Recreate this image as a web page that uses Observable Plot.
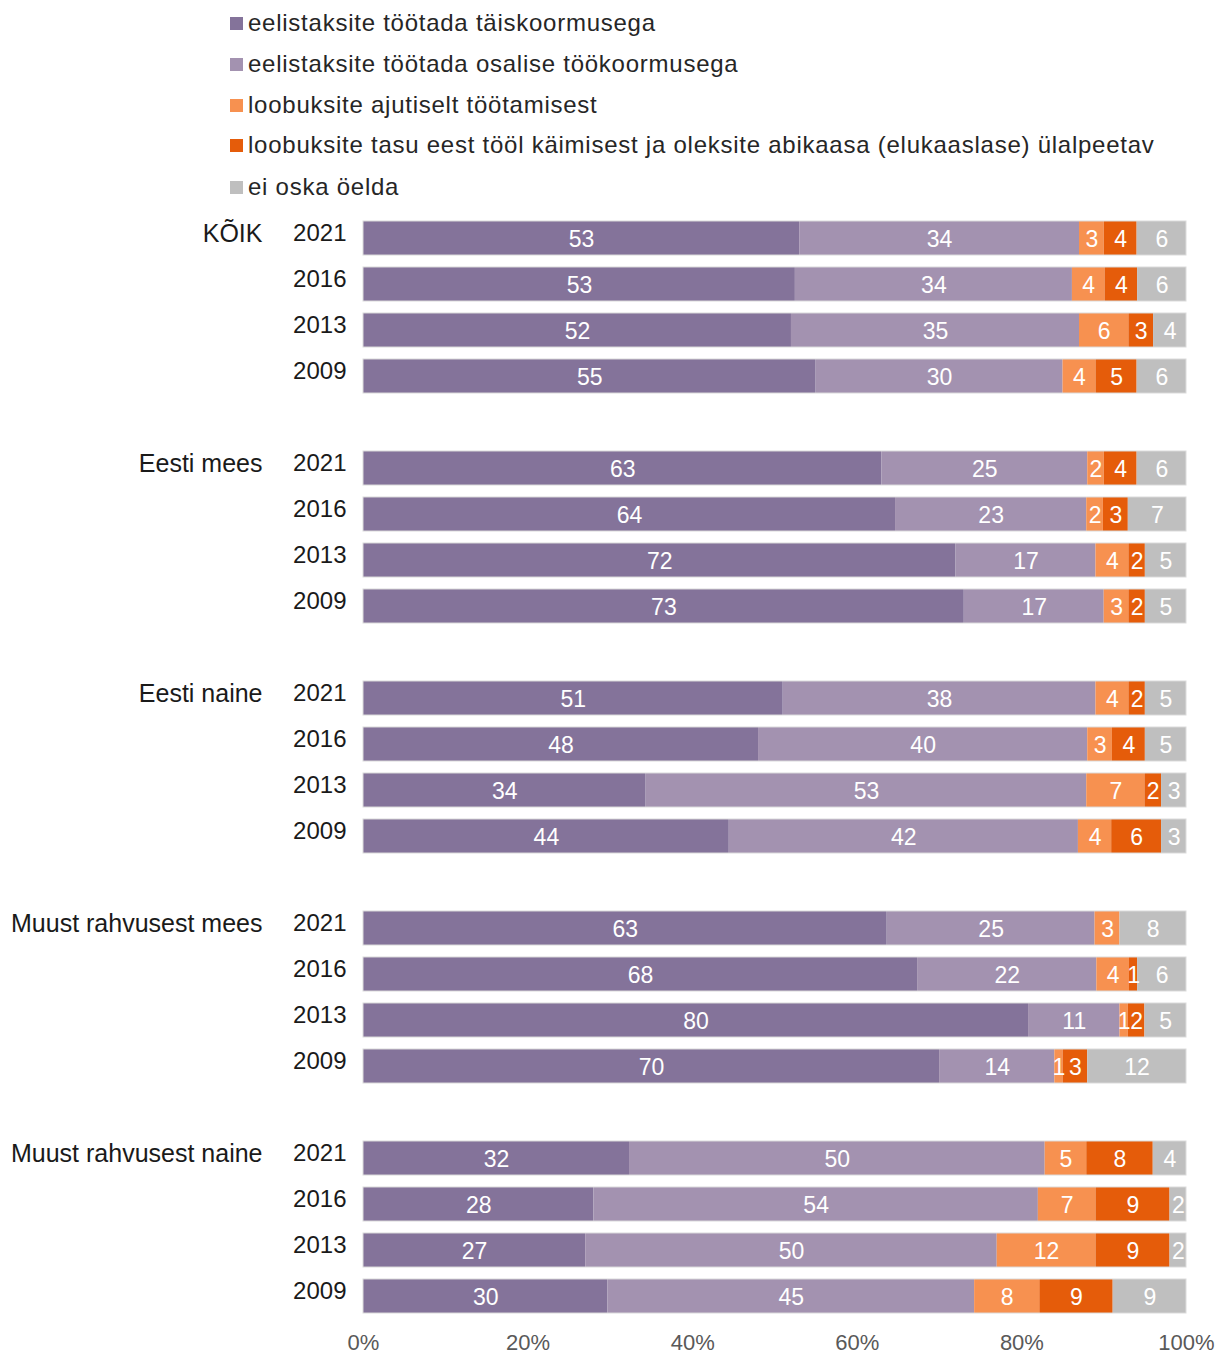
<!DOCTYPE html>
<html>
<head>
<meta charset="utf-8">
<script src="https://cdn.jsdelivr.net/npm/d3@7"></script>
<script src="https://cdn.jsdelivr.net/npm/@observablehq/plot@0.6"></script>
<style>
  body { margin: 0; background: #fff; font-family: "Liberation Sans", Arial, sans-serif; }
  #legend { position: relative; width: 1219px; height: 205px; }
  .item { position: absolute; left: 230px; height: 30px; display: flex; align-items: center; font-size: 24px; letter-spacing: 0.75px; color: #262626; white-space: nowrap; }
  .sw { width: 13px; height: 13px; margin-right: 5px; flex: none; }
  #chart svg { display: block; }
</style>
</head>
<body>
<div id="legend"></div>
<div id="chart"></div>
<script>
const groups = ["KÕIK", "Eesti mees", "Eesti naine", "Muust rahvusest mees", "Muust rahvusest naine"];
const years = ["2021", "2016", "2013", "2009"];
const categories = [
  "eelistaksite töötada täiskoormusega",
  "eelistaksite töötada osalise töökoormusega",
  "loobuksite ajutiselt töötamisest",
  "loobuksite tasu eest tööl käimisest ja oleksite abikaasa (elukaaslase) ülalpeetav",
  "ei oska öelda"
];
const colors = ["#84739a", "#a392b0", "#f79150", "#e55c0a", "#bfbfbf"];
// values per row: groups x years (2021, 2016, 2013, 2009)
const fullTime  = [53, 53, 52, 55,  63, 64, 72, 73,  51, 48, 34, 44,  63, 68, 80, 70,  32, 28, 27, 30];
const partTime  = [34, 34, 35, 30,  25, 23, 17, 17,  38, 40, 53, 42,  25, 22, 11, 14,  50, 54, 50, 45];
const tempQuit  = [ 3,  4,  6,  4,   2,  2,  4,  3,   4,  3,  7,  4,   3,  4,  1,  1,   5,  7, 12,  8];
const dependent = [ 4,  4,  3,  5,   4,  3,  2,  2,   2,  4,  2,  6,   0,  1,  2,  3,   8,  9,  9,  9];
const dontKnow  = [ 6,  6,  4,  6,   6,  7,  5,  5,   5,  5,  3,  3,   8,  6,  5, 12,   4,  2,  2,  9];
const series = [fullTime, partTime, tempQuit, dependent, dontKnow];
const xTicks = [0, 0.2, 0.4, 0.6, 0.8, 1];

// legend
const legend = document.getElementById("legend");
const legendY = [23, 64, 105, 145, 187];
categories.forEach((c, i) => {
  const d = document.createElement("div");
  d.className = "item";
  d.style.top = (legendY[i] - 15) + "px";
  d.innerHTML = `<span class="sw" style="background:${colors[i]}"></span><span>${c}</span>`;
  legend.appendChild(d);
});

// rows
const rows = [];
const domain = [];
groups.forEach((g, gi) => {
  years.forEach((y, yi) => {
    const key = g + "|" + y;
    rows.push({key, group: g, year: y, first: yi === 0, idx: gi * 4 + yi});
    domain.push(key);
  });
  if (gi < groups.length - 1) domain.push("gap" + gi);
});
const data = [];
rows.forEach(r => {
  categories.forEach((c, ci) => {
    data.push({key: r.key, cat: c, value: series[ci][r.idx]});
  });
});

const stackOpts = {offset: "normalize", order: categories};

const chart = Plot.plot({
  width: 1219,
  height: 1151,
  marginTop: 10,
  marginBottom: 37,
  marginLeft: 363,
  marginRight: 33,
  style: {fontFamily: "Liberation Sans, Arial, sans-serif", fontSize: "22px", background: "#fff"},
  x: {domain: [0, 1], axis: null},
  y: {domain, paddingInner: 0.26, paddingOuter: 0.13, round: false, axis: null},
  color: {domain: categories, range: colors},
  marks: [
    Plot.barX(data, Plot.stackX({x: "value", y: "key", fill: "cat", ...stackOpts})),
    Plot.barX(rows, {x1: 0, x2: 1, y: "key", fill: "none", stroke: "#dcdcdc", strokeWidth: 1}),
    Plot.text(data.filter(d => d.value > 0), Plot.stackX({
      x: "value", y: "key", z: "cat", text: d => String(d.value), ...stackOpts,
      fill: "#ffffff", fontSize: 23, dy: 1
    })),
    Plot.text(rows, {y: "key", text: "year", frameAnchor: "left", textAnchor: "end", dx: -17, dy: -5, fontSize: 24, fill: "#1a1a1a"}),
    Plot.text(rows.filter(r => r.first), {y: "key", text: "group", frameAnchor: "left", textAnchor: "end", dx: -101, dy: -5, fontSize: 25, fill: "#1a1a1a"}),
    Plot.axisX({ticks: xTicks, tickFormat: d => Math.round(d * 100) + "%", tickSize: 0, tickPadding: 15, label: null, fontSize: 22, fill: "#595959"})
  ]
});
document.getElementById("chart").appendChild(chart);
</script>
</body>
</html>
